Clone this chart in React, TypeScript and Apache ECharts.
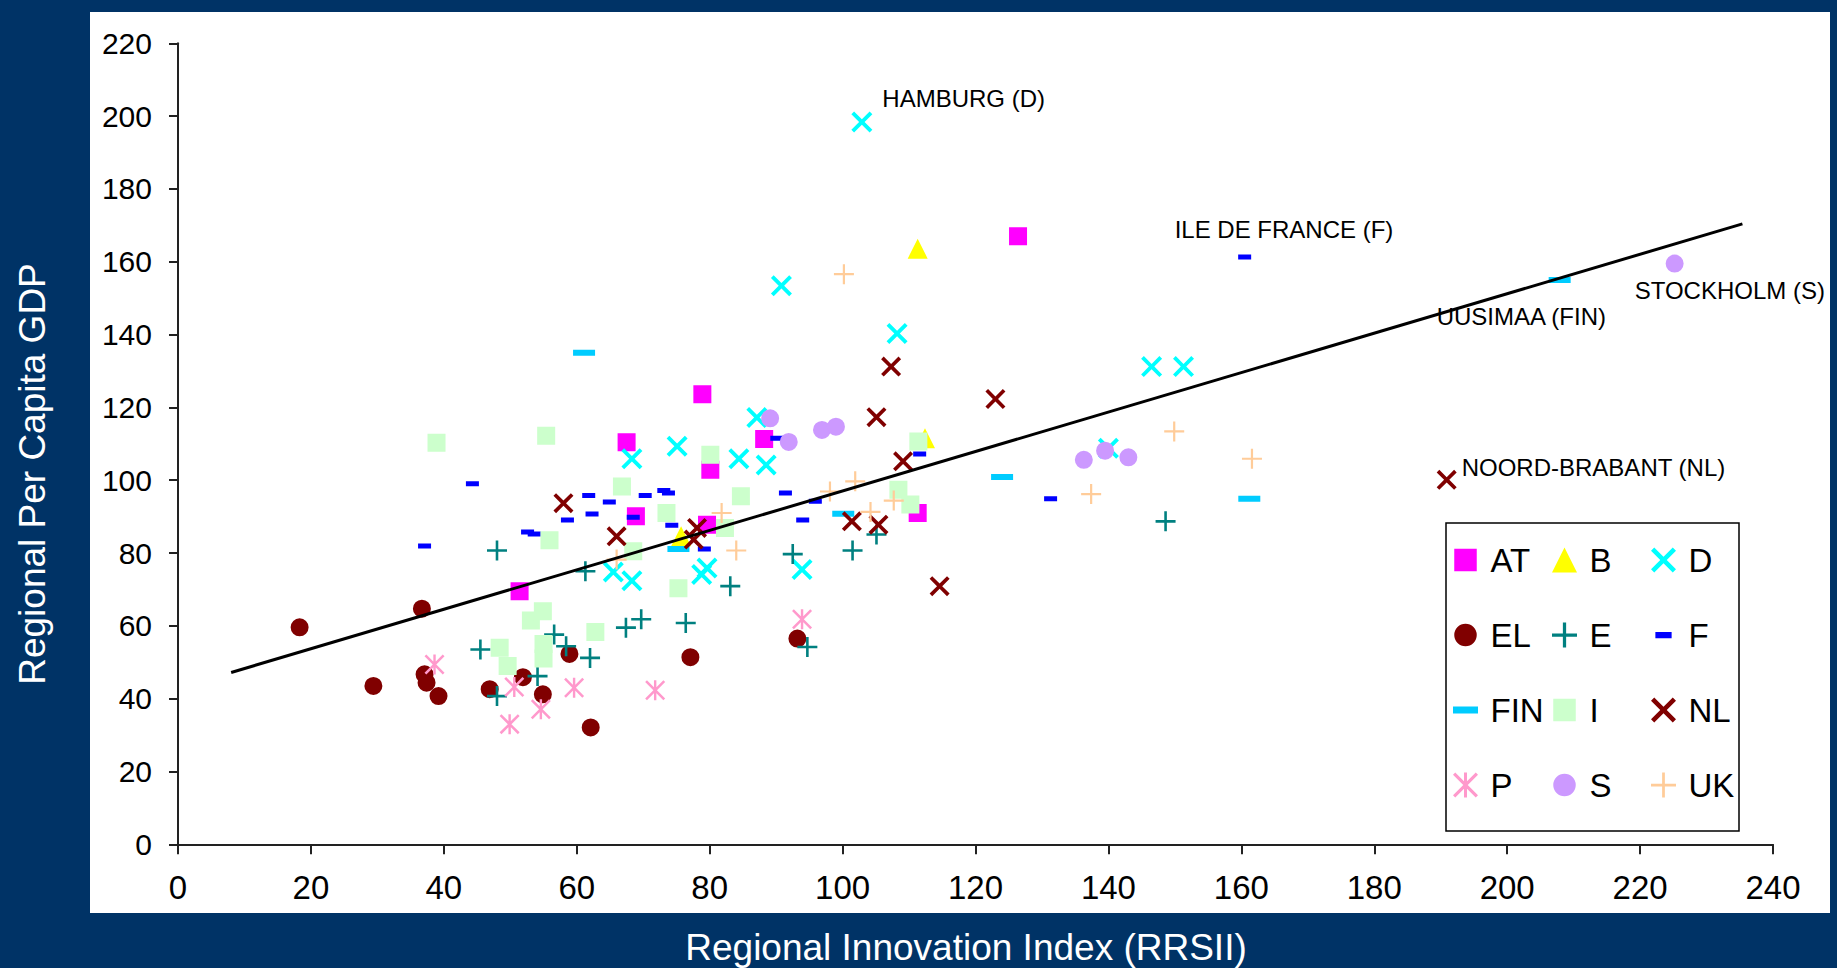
import React, { useEffect, useRef } from "react";
import * as echarts from "echarts";

// ---- Data (Regional Innovation Index vs Regional Per Capita GDP) ----
const seriesNames = ["AT", "B", "D", "EL", "E", "F", "FIN", "I", "NL", "P", "S", "UK"];

const atX = [51.4, 67.5, 78.9, 88.2, 80.1, 68.9, 79.6, 111.3, 126.4];
const atY = [69.5, 110.4, 123.6, 111.3, 102.9, 90.1, 87.8, 91.0, 167.0];

const bX = [111.3, 112.4, 75.7];
const bY = [163.6, 111.5, 84.6];

const dX = [102.9, 90.8, 108.2, 146.5, 151.3, 140.0, 87.1, 75.1, 68.3, 84.4, 88.5, 65.5, 68.3, 79.6, 78.8, 93.9];
const dY = [198.4, 153.4, 140.3, 131.2, 131.2, 108.8, 117.2, 109.3, 105.9, 105.9, 104.2, 74.8, 72.4, 75.9, 74.1, 75.5];

const elX = [18.3, 29.4, 36.7, 37.1, 37.4, 39.2, 46.9, 51.9, 54.9, 58.9, 62.1, 77.1, 93.2];
const elY = [59.6, 43.5, 64.7, 46.7, 44.4, 40.7, 42.6, 45.9, 41.2, 52.3, 32.1, 51.4, 56.5];

const eX = [48.0, 45.5, 48.0, 54.1, 56.6, 58.4, 62.0, 61.3, 67.4, 69.7, 76.4, 83.1, 92.5, 94.7, 101.5, 105.1, 148.6];
const eY = [80.7, 53.5, 40.7, 46.2, 57.6, 54.4, 51.2, 75.0, 59.5, 61.8, 60.8, 70.9, 79.7, 54.2, 80.7, 85.1, 88.7];

const fX = [37.1, 44.3, 52.6, 53.6, 58.6, 61.8, 62.3, 64.9, 68.5, 70.3, 73.1, 73.8, 74.3, 79.2, 90.1, 91.4, 94.0, 95.9, 111.6, 131.3, 160.5];
const fY = [81.9, 99.0, 85.8, 85.2, 89.1, 95.8, 90.7, 94.0, 89.8, 95.8, 97.2, 96.5, 87.6, 81.1, 111.5, 96.5, 89.1, 94.2, 107.2, 94.9, 161.3];

const finX = [61.1, 75.3, 100.1, 124.0, 161.2, 207.9];
const finY = [135.0, 81.1, 90.8, 100.9, 94.9, 155.0];

const iX = [38.9, 55.4, 55.9, 53.1, 54.9, 48.4, 49.6, 55.0, 55.0, 66.8, 80.1, 73.5, 84.7, 68.5, 75.3, 62.8, 82.3, 111.4, 108.4, 110.2];
const iY = [110.3, 112.2, 83.5, 61.5, 64.0, 54.0, 49.0, 55.0, 51.0, 98.3, 107.0, 91.0, 95.6, 80.5, 70.3, 58.3, 86.9, 110.6, 97.4, 93.3];

const nlX = [58.0, 66.0, 78.1, 77.6, 101.4, 105.4, 109.1, 105.1, 107.3, 114.6, 123.0, 190.9];
const nlY = [93.7, 84.6, 86.9, 83.7, 88.7, 87.8, 105.2, 117.3, 131.2, 70.9, 122.3, 100.1];

const pX = [38.6, 50.6, 49.9, 54.6, 59.6, 71.8, 93.9];
const pY = [49.4, 43.2, 33.0, 37.1, 43.0, 42.3, 61.8];

const sX = [89.1, 91.9, 96.9, 99.0, 136.3, 139.5, 143.0, 225.2];
const sY = [117.0, 110.5, 113.8, 114.7, 105.6, 108.1, 106.3, 159.5];

const ukX = [100.2, 81.8, 84.0, 98.1, 101.9, 104.2, 107.7, 66.0, 149.9, 137.4, 161.6];
const ukY = [156.6, 91.0, 80.7, 96.9, 99.7, 91.3, 94.4, 78.2, 113.4, 96.2, 105.9];

// Linear trend line end points
const trendX = [8.0, 235.4];
const trendY = [47.2, 170.4];

// Annotated regions: series, point index, text
const annotations = [
  { series: "D", index: 0, text: "HAMBURG (D)" },
  { series: "F", index: 20, text: "ILE DE FRANCE (F)" },
  { series: "FIN", index: 5, text: "UUSIMAA (FIN)" },
  { series: "S", index: 7, text: "STOCKHOLM (S)" },
  { series: "NL", index: 11, text: "NOORD-BRABANT (NL)" },
];

const xAxisTitle = "Regional Innovation Index (RRSII)";
const yAxisTitle = "Regional Per Capita GDP";

// ---- Styling ----
const FONT = "'Liberation Sans', Arial, Helvetica, sans-serif";
const SPECK = " M0 0 L0.01 0 L0 0.01 Z M20 20 L19.99 20 L20 19.99 Z";
const SPECK22 = " M0 0 L0.01 0 L0 0.01 Z M22 22 L21.99 22 L22 21.99 Z";

const SYM = {
  square: "path://M1 1 H19 V19 H1 Z" + SPECK,
  triangle: "path://M10 0 L20 20 L0 20 Z" + SPECK,
  circle: "path://M1 10 A9 9 0 1 0 19 10 A9 9 0 1 0 1 10 Z" + SPECK,
  cross: "path://M0 2.6 L2.6 0 L10 7.4 L17.4 0 L20 2.6 L12.6 10 L20 17.4 L17.4 20 L10 12.6 L2.6 20 L0 17.4 L7.4 10 Z" + SPECK,
  plus: "path://M8.7 0 H11.3 V8.7 H20 V11.3 H11.3 V20 H8.7 V11.3 H0 V8.7 H8.7 Z" + SPECK,
  plusThin: "path://M8.9 0 H11.1 V8.9 H20 V11.1 H11.1 V20 H8.9 V11.1 H0 V8.9 H8.9 Z" + SPECK,
  dashSmall: "path://M3.5 7.5 H16.5 V12.5 H3.5 Z" + SPECK,
  dashLong: "path://M0 8 H22 V14 H0 Z" + SPECK22,
  asterisk:
    "path://M0 1.8 L1.8 0 L10 8.2 L18.2 0 L20 1.8 L11.8 10 L20 18.2 L18.2 20 L10 11.8 L1.8 20 L0 18.2 L8.2 10 Z M8.8 0 H11.2 V20 H8.8 Z" +
    SPECK,
};

const seriesStyle: Record<string, { color: string; symbol: string; size: number }> = {
  AT: { color: "#FF00FF", symbol: SYM.square, size: 20 },
  B: { color: "#FFFF00", symbol: SYM.triangle, size: 20 },
  D: { color: "#00FFFF", symbol: SYM.cross, size: 21 },
  EL: { color: "#800000", symbol: SYM.circle, size: 20 },
  E: { color: "#008080", symbol: SYM.plus, size: 20 },
  F: { color: "#0000FF", symbol: SYM.dashSmall, size: 20 },
  FIN: { color: "#00CCFF", symbol: SYM.dashLong, size: 22 },
  I: { color: "#CCFFCC", symbol: SYM.square, size: 20 },
  NL: { color: "#800000", symbol: SYM.cross, size: 20 },
  P: { color: "#FF99CC", symbol: SYM.asterisk, size: 20 },
  S: { color: "#CC99FF", symbol: SYM.circle, size: 20 },
  UK: { color: "#FFCC99", symbol: SYM.plusThin, size: 20 },
};

const labelOffsets: Record<string, number[]> = {
  "HAMBURG (D)": [10, -23],
  "ILE DE FRANCE (F)": [-80, -28],
  "UUSIMAA (FIN)": [-134, 37],
  "STOCKHOLM (S)": [-50, 27],
  "NOORD-BRABANT (NL)": [5, -12],
};

const seriesData: Record<string, [number[], number[]]> = {
  AT: [atX, atY],
  B: [bX, bY],
  D: [dX, dY],
  EL: [elX, elY],
  E: [eX, eY],
  F: [fX, fY],
  FIN: [finX, finY],
  I: [iX, iY],
  NL: [nlX, nlY],
  P: [pX, pY],
  S: [sX, sY],
  UK: [ukX, ukY],
};

function buildSeries() {
  const out: any[] = seriesNames.map((name) => {
    const [xs, ys] = seriesData[name];
    const st = seriesStyle[name];
    const data = xs.map((x, i) => {
      const ann = annotations.find((a) => a.series === name && a.index === i);
      if (!ann) return [x, ys[i]];
      return {
        value: [x, ys[i]],
        label: {
          show: true,
          formatter: ann.text,
          position: "right",
          distance: 0,
          offset: labelOffsets[ann.text],
          color: "#000",
          fontSize: 24,
          fontFamily: FONT,
        },
      };
    });
    return {
      name,
      type: "scatter",
      data,
      symbol: st.symbol,
      symbolSize: st.size,
      itemStyle: { color: st.color, opacity: 1 },
      emphasis: { disabled: true },
      z: 2,
    };
  });
  out.push({
    name: "trend",
    type: "line",
    data: trendX.map((x, i) => [x, trendY[i]]),
    showSymbol: false,
    symbol: "none",
    lineStyle: { color: "#000", width: 3 },
    emphasis: { disabled: true },
    silent: true,
    z: 5,
  });
  return out;
}

const legendColumns = [
  { names: ["AT", "EL", "FIN", "P"], left: 1453 },
  { names: ["B", "E", "I", "S"], left: 1552 },
  { names: ["D", "F", "NL", "UK"], left: 1651 },
];

export default function App() {
  const ref = useRef<HTMLDivElement>(null);
  useEffect(() => {
    if (!ref.current) return;
    const chart = echarts.init(ref.current, null, { renderer: "svg" });
    const option: any = {
      animation: false,
      backgroundColor: "#003366",
      textStyle: { fontFamily: FONT },
      grid: { left: 178, right: 64, top: 43.3, bottom: 123.7, containLabel: false },
      xAxis: {
        type: "value",
        min: 0,
        max: 240,
        interval: 20,
        splitLine: { show: false },
        axisLine: { show: true, onZero: false, lineStyle: { color: "#222", width: 2 } },
        axisTick: { show: true, inside: false, length: 10, lineStyle: { color: "#222", width: 2 } },
        axisLabel: { color: "#000", fontSize: 33, fontFamily: FONT, margin: 27 },
      },
      yAxis: {
        type: "value",
        min: 0,
        max: 220,
        interval: 20,
        splitLine: { show: false },
        axisLine: { show: true, onZero: false, lineStyle: { color: "#222", width: 2 } },
        axisTick: { show: true, inside: false, length: 9, lineStyle: { color: "#222", width: 2 } },
        axisLabel: { color: "#000", fontSize: 30, fontFamily: FONT, margin: 26 },
      },
      legend: legendColumns.map((col) => ({
        data: col.names,
        orient: "vertical",
        left: col.left,
        top: 542,
        padding: 0,
        itemGap: 39,
        itemWidth: 40,
        itemHeight: 25,
        symbolKeepAspect: true,
        selectedMode: false,
        textStyle: { color: "#000", fontSize: 33, fontFamily: FONT, lineHeight: 36, padding: [0, 0, 0, 0] },
      })),
      graphic: [
        {
          type: "rect",
          z: -10,
          silent: true,
          shape: { x: 90, y: 12, width: 1740, height: 901 },
          style: { fill: "#ffffff" },
        },
        {
          type: "rect",
          z: 1,
          silent: true,
          shape: { x: 1446, y: 523, width: 293, height: 308 },
          style: { fill: "none", stroke: "#000", lineWidth: 1.5 },
        },
        {
          type: "text",
          x: 966,
          y: 947,
          silent: true,
          style: {
            text: xAxisTitle,
            fill: "#ffffff",
            font: `37px ${FONT}`,
            align: "center",
            verticalAlign: "middle",
          },
        },
        {
          type: "text",
          x: 32,
          y: 474,
          rotation: Math.PI / 2,
          silent: true,
          style: {
            text: yAxisTitle,
            fill: "#ffffff",
            font: `37px ${FONT}`,
            align: "center",
            verticalAlign: "middle",
          },
        },
      ],
      series: buildSeries(),
    };
    chart.setOption(option);
    return () => chart.dispose();
  }, []);
  return (
    <div
      ref={ref}
      style={{ position: "fixed", left: 0, top: 0, width: 1837, height: 968 }}
    />
  );
}
